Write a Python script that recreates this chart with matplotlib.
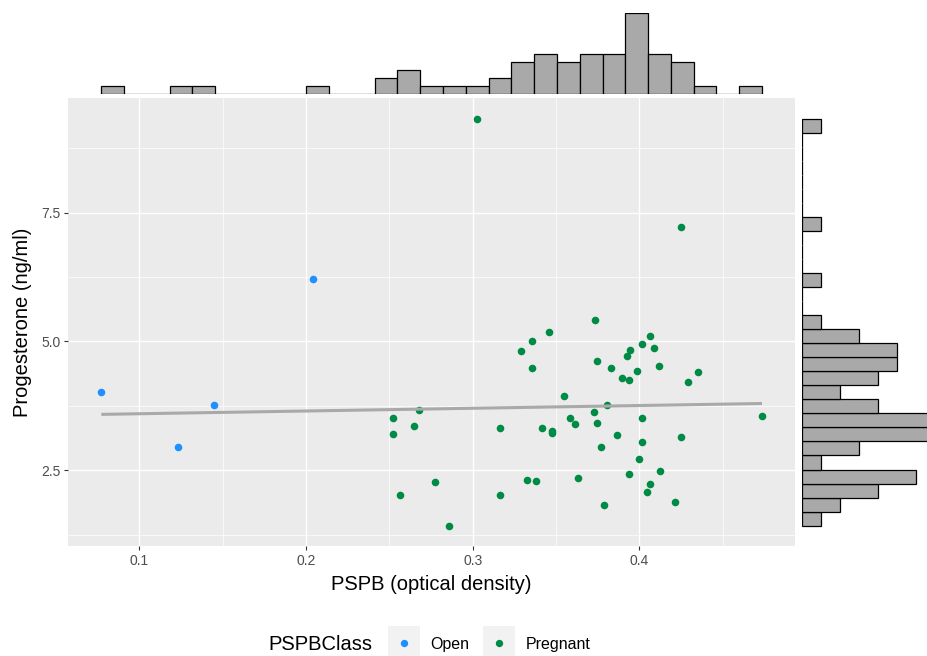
import numpy as np
import matplotlib
matplotlib.use("Agg")
import matplotlib.pyplot as plt
from matplotlib.patches import Rectangle
from matplotlib.lines import Line2D

plt.rcParams['font.family'] = ['Liberation Sans', 'DejaVu Sans']

# PSPB (optical density) and progesterone (ng/ml)
open_x = [0.0772, 0.1232, 0.1448, 0.2044]
open_y = [4.02, 2.96, 3.77, 6.22]

preg_x = [0.3024, 0.4248, 0.2524, 0.2524, 0.2648, 0.2680, 0.2776, 0.2566, 0.2856,
          0.3735, 0.3456, 0.3356, 0.3288, 0.3356, 0.4062, 0.4017, 0.4086, 0.3945,
          0.3926, 0.3747, 0.3830, 0.3986, 0.4116, 0.4350, 0.4290, 0.3897, 0.3937,
          0.3546, 0.3807, 0.3728, 0.4017, 0.3586, 0.3614, 0.3747, 0.3166, 0.3416,
          0.3478, 0.3478, 0.4735, 0.3864, 0.4248, 0.4017, 0.3770, 0.3998, 0.4125,
          0.3937, 0.4065, 0.4045, 0.4215, 0.3790, 0.3324, 0.3378, 0.3634, 0.3166]
preg_y = [9.32, 7.22, 3.51, 3.205, 3.36, 3.665, 2.267, 2.02, 1.43,
          5.42, 5.19, 5.00, 4.81, 4.49, 5.10, 4.95, 4.87, 4.84,
          4.71, 4.625, 4.49, 4.43, 4.52, 4.41, 4.22, 4.295, 4.256,
          3.937, 3.77, 3.626, 3.51, 3.51, 3.407, 3.42, 3.32, 3.32,
          3.27, 3.225, 3.555, 3.185, 3.147, 3.05, 2.947, 2.714, 2.48,
          2.43, 2.24, 2.08, 1.885, 1.84, 2.32, 2.305, 2.345, 2.02]

classes = ["Open", "Pregnant"]
colors = {"Open": "#1E90FF", "Pregnant": "#008B45"}

all_x = np.array(open_x + preg_x)
all_y = np.array(open_y + preg_y)

W, H = 927, 656
fig = plt.figure(figsize=(W / 100, H / 100), dpi=100)

def fx(px):
    return px / W

def fy(px):
    return 1 - px / H

# main panel
ax = fig.add_axes([fx(68.3), fy(546), fx(795) - fx(68.3), fy(98.3) - fy(546)])
ax.set_facecolor("#EBEBEB")
for s in ax.spines.values():
    s.set_visible(False)

ax.set_xticks([0.1, 0.2, 0.3, 0.4])
ax.set_xticklabels(["0.1", "0.2", "0.3", "0.4"])
ax.set_yticks([2.5, 5.0, 7.5])
ax.set_yticklabels(["2.5", "5.0", "7.5"])
ax.set_xticks([0.05, 0.15, 0.25, 0.35, 0.45], minor=True)
ax.set_yticks([1.25, 3.75, 6.25, 8.75], minor=True)

# ggplot-style 5% expansion, set after the ticks so they don't widen it
xr = all_x.max() - all_x.min()
yr = all_y.max() - all_y.min()
ax.set_xlim(all_x.min() - 0.05 * xr, all_x.max() + 0.05 * xr)
ax.set_ylim(all_y.min() - 0.05 * yr, all_y.max() + 0.05 * yr)

ax.grid(which="major", color="white", linewidth=1.0)
ax.grid(which="minor", color="white", linewidth=0.5)
ax.set_axisbelow(True)
ax.tick_params(which="major", length=2.9, width=0.8, color="#333333",
               labelcolor="#4D4D4D", labelsize=10, pad=2.6)
ax.tick_params(which="minor", length=0)

ax.scatter(open_x, open_y, s=30, color=colors["Open"], linewidths=0, zorder=3)
ax.scatter(preg_x, preg_y, s=30, color=colors["Pregnant"], linewidths=0, zorder=3)

# linear fit over all points
k, b = np.polyfit(all_x, all_y, 1)
xs = np.array([all_x.min(), all_x.max()])
ax.plot(xs, k * xs + b, color="#A9A9A9", linewidth=2.2, zorder=4,
        solid_capstyle="butt")

# top marginal histogram
axt = fig.add_axes([fx(68.3), fy(94.3), fx(795) - fx(68.3), fy(12.7) - fy(94.3)])
axt.hist(all_x, bins=29, color="#A9A9A9", edgecolor="black", linewidth=0.9)
axt.set_xlim(ax.get_xlim())
axt.set_ylim(0, 10)
axt.axis("off")

# right marginal histogram
axr = fig.add_axes([fx(801.7), fy(546), 1 - fx(801.7), fy(98.3) - fy(546)])
axr.hist(all_y, bins=29, orientation="horizontal", color="#A9A9A9",
         edgecolor="black", linewidth=0.9)
axr.set_ylim(ax.get_ylim())
axr.set_xlim(0, (W - 801.7) / 19.0)
axr.axis("off")

# axis titles
fig.text(fx(431.5), fy(590), "PSPB (optical density)", ha="center", va="baseline",
         fontsize=14.5)
fig.text(fx(28), fy(322), "Progesterone (ng/ml)", ha="center", va="baseline",
         rotation=90, rotation_mode="anchor", fontsize=14.5)

# legend at bottom
fig.text(fx(268), fy(650), "PSPBClass", ha="left", va="baseline", fontsize=14.5)
key_x = [404.2, 499.0]
lab_x = [430, 525.7]
for cls, kx, lx in zip(classes, key_x, lab_x):
    fig.patches.append(Rectangle((fx(kx - 16), fy(658)), 32 / W, 32 / H,
                                 transform=fig.transFigure, facecolor="#F2F2F2",
                                 edgecolor="none"))
    fig.lines.append(Line2D([fx(kx)], [fy(642.7)], transform=fig.transFigure,
                            marker="o", markersize=5.3, color=colors[cls],
                            markeredgewidth=0, linestyle="none"))
    fig.text(fx(lx), fy(649.5), cls, ha="left", va="baseline", fontsize=11.5)

fig.savefig("out.png", dpi=100)
